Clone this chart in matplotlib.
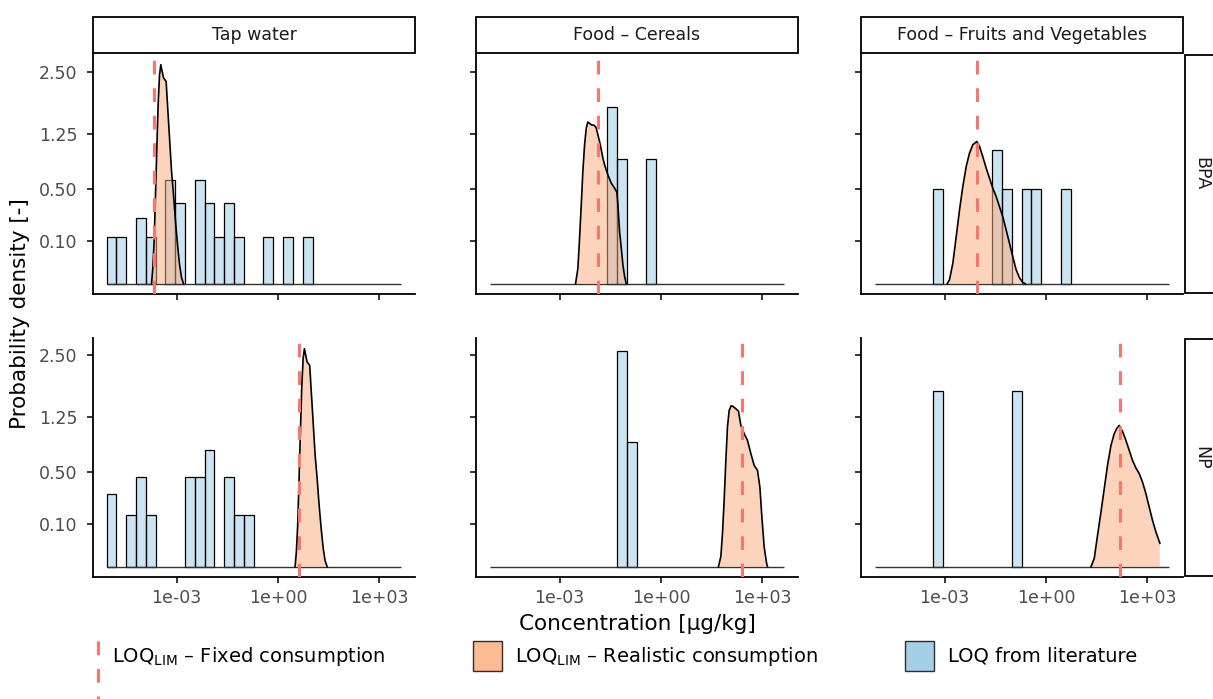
import numpy as np
import matplotlib

matplotlib.use("Agg")
import matplotlib.pyplot as plt
from matplotlib.lines import Line2D
from matplotlib.patches import Rectangle
from matplotlib.ticker import NullLocator

# --- facets ---
row_names = ["BPA", "NP"]
col_names = ["Tap water", "Food \u2013 Cereals", "Food \u2013 Fruits and Vegetables"]

# --- histogram of literature LOQs (log10 bins shared by all panels) ---
bin_start = -5.07
bin_width = 0.29
n_bins = 30

tap_bpa_hist = [0.12, 0.12, 0, 0.24, 0.12, 0, 0.60, 0.36, 0, 0.60, 0.36, 0.12, 0.36, 0.12, 0,
                0, 0.12, 0, 0.12, 0, 0.12, 0, 0, 0, 0, 0, 0, 0, 0, 0]
tap_np_hist = [0.30, 0, 0.15, 0.45, 0.15, 0, 0, 0, 0.45, 0.45, 0.76, 0, 0.45, 0.15, 0.15,
               0, 0, 0, 0, 0, 0, 0, 0, 0, 0, 0, 0, 0, 0, 0]
cer_bpa_hist = [0, 0, 0, 0, 0, 0, 0, 0, 0, 0, 0, 0, 1.74, 0.87, 0,
                0, 0.87, 0, 0, 0, 0, 0, 0, 0, 0, 0, 0, 0, 0, 0]
cer_np_hist = [0, 0, 0, 0, 0, 0, 0, 0, 0, 0, 0, 0, 0, 2.60, 0.87,
               0, 0, 0, 0, 0, 0, 0, 0, 0, 0, 0, 0, 0, 0, 0]
fru_bpa_hist = [0, 0, 0, 0, 0, 0, 0.50, 0, 0, 0, 0, 0, 1.00, 0.50, 0,
                0.50, 0.50, 0, 0, 0.50, 0, 0, 0, 0, 0, 0, 0, 0, 0, 0]
fru_np_hist = [0, 0, 0, 0, 0, 0, 1.72, 0, 0, 0, 0, 0, 0, 0, 1.72,
               0, 0, 0, 0, 0, 0, 0, 0, 0, 0, 0, 0, 0, 0, 0]

# --- LOQ_LIM densities, realistic consumption (x as log10 concentration) ---
tap_bpa_dens_x = [-3.740, -3.702, -3.663, -3.622, -3.583, -3.545, -3.503, -3.465, -3.426, -3.385,
                  -3.308, -3.267, -3.207, -3.148, -3.089, -3.030, -2.970, -2.911, -2.852, -2.793]
tap_bpa_dens_y = [0, 0.013, 0.098, 0.438, 1.021, 1.778, 2.426, 2.664, 2.503, 2.350,
                  2.272, 1.778, 1.177, 0.699, 0.438, 0.214, 0.083, 0.020, 0.002, 0]
tap_np_dens_x = [0.505, 0.543, 0.582, 0.623, 0.662, 0.700, 0.742, 0.780, 0.819, 0.860,
                 0.937, 0.978, 1.038, 1.097, 1.156, 1.215, 1.275, 1.334, 1.393, 1.452]
tap_np_dens_y = [0, 0.013, 0.098, 0.438, 1.021, 1.778, 2.426, 2.664, 2.503, 2.350,
                 2.272, 1.778, 1.177, 0.699, 0.438, 0.214, 0.083, 0.020, 0.002, 0]
cer_bpa_dens_x = [-2.527, -2.458, -2.408, -2.358, -2.311, -2.260, -2.210, -2.163, -2.062, -1.964,
                  -1.914, -1.867, -1.817, -1.766, -1.719, -1.669, -1.571, -1.470, -1.373, -1.305,
                  -1.275, -1.225, -1.175, -1.127, -1.077, -1.027]
cer_bpa_dens_y = [0, 0.013, 0.115, 0.345, 0.699, 1.071, 1.345, 1.451, 1.403, 1.390,
                  1.345, 1.231, 1.123, 0.996, 0.876, 0.785, 0.658, 0.561, 0.507, 0.465,
                  0.345, 0.151, 0.070, 0.020, 0.003, 0]
cer_np_dens_x = [1.698, 1.769, 1.817, 1.867, 1.917, 1.964, 2.015, 2.074, 2.133, 2.213, 2.290,
                 2.361, 2.459, 2.556, 2.657, 2.754, 2.852, 2.923, 2.982, 3.050, 3.118, 3.148]
cer_np_dens_y = [0, 0.006, 0.062, 0.248, 0.634, 1.092, 1.367, 1.451, 1.438, 1.397, 1.355,
                 1.118, 0.991, 0.894, 0.716, 0.576, 0.521, 0.356, 0.139, 0.022, 0.001, 0]
fru_bpa_dens_x = [-2.920, -2.852, -2.755, -2.655, -2.557, -2.460, -2.360, -2.262, -2.165, -2.047,
                  -1.967, -1.870, -1.769, -1.672, -1.574, -1.474, -1.377, -1.279, -1.179, -1.081,
                  -0.984, -0.884, -0.786, -0.689, -0.618]
fru_bpa_dens_y = [0, 0.001, 0.023, 0.123, 0.302, 0.524, 0.762, 0.947, 1.071, 1.123,
                  1.045, 0.898, 0.742, 0.619, 0.507, 0.422, 0.330, 0.250, 0.161, 0.091,
                  0.041, 0.011, 0.002, 0.0001, 0]
fru_np_dens_x = [1.329, 1.427, 1.524, 1.625, 1.722, 1.819, 1.920, 2.017, 2.097, 2.165, 2.262,
                 2.362, 2.460, 2.557, 2.658, 2.755, 2.852, 2.953, 3.050, 3.148, 3.248, 3.366]
fru_np_dens_y = [0, 0.004, 0.056, 0.168, 0.342, 0.576, 0.825, 0.991, 1.076, 1.118, 1.026,
                 0.894, 0.758, 0.634, 0.546, 0.486, 0.402, 0.300, 0.200, 0.121, 0.068, 0.031]

# --- LOQ_LIM, fixed consumption (log10) ---
fixed_loq = [[-3.66, -1.86, -2.05],
             [0.61, 2.39, 2.19]]

hists = [[tap_bpa_hist, cer_bpa_hist, fru_bpa_hist],
         [tap_np_hist, cer_np_hist, fru_np_hist]]
dens = [[(tap_bpa_dens_x, tap_bpa_dens_y), (cer_bpa_dens_x, cer_bpa_dens_y), (fru_bpa_dens_x, fru_bpa_dens_y)],
        [(tap_np_dens_x, tap_np_dens_y), (cer_np_dens_x, cer_np_dens_y), (fru_np_dens_x, fru_np_dens_y)]]

x_ticks = [1e-3, 1e0, 1e3]
x_tick_labels = ["1e-03", "1e+00", "1e+03"]
y_ticks = [0.10, 0.50, 1.25, 2.50]
y_tick_labels = ["0.10", "0.50", "1.25", "2.50"]

RED = "#F8766D"
ORANGE = "#FBAA78"
BLUE = "#8EC3E0"
DASH = (0, (4.5, 4.5))

W, H = 1213, 699
COL_LEFT = [93, 476, 861]
COL_W = 322
ROW_TOP = [54, 338]
ROW_BOT = [294, 577]


def sqrt_fwd(v):
    v = np.asarray(v, dtype=float)
    return np.sign(v) * np.sqrt(np.abs(v))


def sqrt_inv(v):
    v = np.asarray(v, dtype=float)
    return np.sign(v) * v ** 2


def fx(px):
    return px / W


def fy(py):
    return 1 - py / H


def main() -> None:
    plt.rcParams["font.family"] = ["DejaVu Sans"]
    fig = plt.figure(figsize=(W / 100, H / 100), dpi=100)

    edges = 10 ** (bin_start + bin_width * np.arange(n_bins + 1))
    lefts = edges[:-1]
    widths = edges[1:] - edges[:-1]

    for r in range(2):
        for c in range(3):
            rect = [fx(COL_LEFT[c]), fy(ROW_BOT[r]), COL_W / W, (ROW_BOT[r] - ROW_TOP[r]) / H]
            ax = fig.add_axes(rect)
            ax.set_xscale("log")
            ax.set_yscale("function", functions=(sqrt_fwd, sqrt_inv))

            h = np.array(hists[r][c], dtype=float)
            m = h > 0
            ax.bar(lefts[m], h[m], width=widths[m], align="edge",
                   facecolor=(*matplotlib.colors.to_rgb(BLUE), 0.45),
                   edgecolor="black", linewidth=0.9, zorder=2)
            ax.hlines(0, edges[0], edges[-1], color="#333333", linewidth=1.0, zorder=2)

            dx, dy = dens[r][c]
            xs = 10 ** np.array(dx)
            ax.fill_between(xs, 0, dy, facecolor=ORANGE, alpha=0.5, linewidth=0, zorder=3)
            ax.plot(xs, dy, color="black", linewidth=1.2, zorder=4)

            ax.axvline(10 ** fixed_loq[r][c], color=RED, linewidth=2.2, linestyle=DASH, zorder=5)

            ax.set_xlim(10 ** -5.47, 10 ** 4.05)
            ax.set_ylim(-0.0059, 2.93)

            ax.set_xticks(x_ticks)
            ax.set_xticklabels(x_tick_labels if r == 1 else [])
            ax.xaxis.set_minor_locator(NullLocator())
            ax.set_yticks(y_ticks)
            ax.set_yticklabels(y_tick_labels if c == 0 else [])
            ax.yaxis.set_minor_locator(NullLocator())

            ax.tick_params(length=4.3, width=1.1, color="black", labelcolor="#4D4D4D", labelsize=12.5)
            ax.tick_params(axis="x", pad=4)
            ax.tick_params(axis="y", pad=7)
            for side in ("top", "right"):
                ax.spines[side].set_visible(False)
            for side in ("left", "bottom"):
                ax.spines[side].set_linewidth(1.3)
            ax.set_facecolor("none")

    # column strips
    for c, name in enumerate(col_names):
        fig.add_artist(Rectangle((fx(COL_LEFT[c]), fy(52.5)), COL_W / W, 35.5 / H,
                                 transform=fig.transFigure, facecolor="white",
                                 edgecolor="black", linewidth=1.3))
        fig.text(fx(COL_LEFT[c] + COL_W / 2), fy(35), name, ha="center", va="center",
                 fontsize=12.5, color="#1A1A1A")

    # row strips (cut by the right edge)
    for r, name in enumerate(row_names):
        top, bot = ROW_TOP[r] + 1, ROW_BOT[r] - 1
        fig.add_artist(Rectangle((fx(1185), fy(bot)), 45 / W, (bot - top) / H,
                                 transform=fig.transFigure, facecolor="white",
                                 edgecolor="black", linewidth=1.3))
        fig.text(fx(1201), fy((top + bot) / 2), name, ha="center", va="center",
                 rotation=270, fontsize=12.5, color="#1A1A1A")

    fig.text(fx(20), fy(314), "Probability density [-]", rotation=90, ha="center",
             va="center", fontsize=15.5)
    fig.text(fx(637), fy(624), "Concentration [\u00b5g/kg]", ha="center", va="center",
             fontsize=15.5)

    # legend
    ly = 656
    fig.add_artist(Line2D([fx(98), fx(98)], [fy(641), fy(699)], transform=fig.transFigure,
                          color=RED, linewidth=2.2, linestyle=DASH))
    fig.text(fx(112), fy(ly), "LOQ$_{\\mathregular{LIM}}$ \u2013 Fixed consumption",
             ha="left", va="center", fontsize=14)
    fig.add_artist(Rectangle((fx(473), fy(671)), 29 / W, 30 / H, transform=fig.transFigure,
                             facecolor=ORANGE, alpha=0.8, edgecolor="black", linewidth=1.0))
    fig.text(fx(515), fy(ly), "LOQ$_{\\mathregular{LIM}}$ \u2013 Realistic consumption",
             ha="left", va="center", fontsize=14)
    fig.add_artist(Rectangle((fx(905), fy(671)), 29 / W, 30 / H, transform=fig.transFigure,
                             facecolor=BLUE, alpha=0.8, edgecolor="black", linewidth=1.0))
    fig.text(fx(948), fy(ly), "LOQ from literature", ha="left", va="center", fontsize=14)

    fig.savefig("out.png", dpi=100)
    plt.close(fig)


if __name__ == "__main__":
    main()
